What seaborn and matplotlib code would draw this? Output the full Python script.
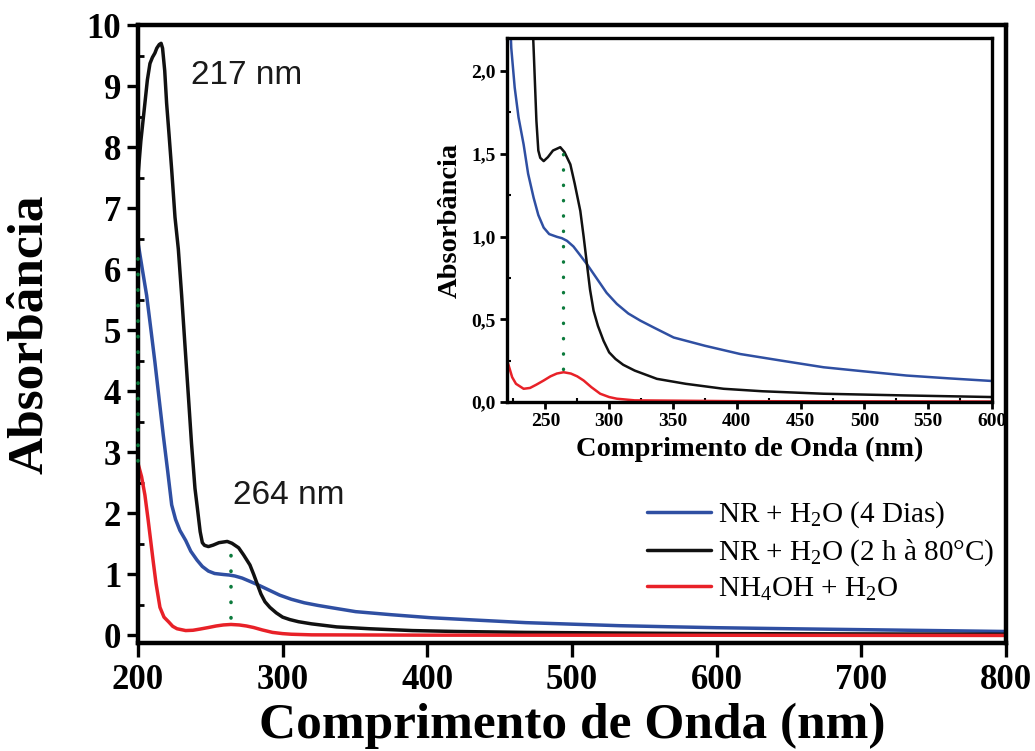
import matplotlib
matplotlib.use("Agg")
import matplotlib.pyplot as plt
import numpy as np
import pandas as pd
import seaborn as sns
from matplotlib.ticker import FixedLocator, MultipleLocator

# ---------------------------------------------------------------
# UV-Vis spectra: wavelength (nm) and absorbance for each sample
# ---------------------------------------------------------------
nr_4dias_nm = [200, 203, 206, 209, 211.7, 214.5, 217.5, 220.5, 223.3, 226, 229,
               233, 236.5, 240.8, 244.5, 248.7, 253, 259.2, 263, 267, 272, 277,
               282.6, 290, 298, 306, 315, 324.4, 335, 350.5, 375, 402.7, 435,
               468, 500, 533, 566, 600, 650, 700, 750, 800]
nr_4dias_abs = [6.44, 6.0, 5.57, 5.0, 4.48, 3.9, 3.28, 2.7, 2.14, 1.9, 1.72,
                1.556, 1.38, 1.235, 1.13, 1.054, 1.015, 0.998, 0.99, 0.974, 0.94,
                0.89, 0.833, 0.75, 0.66, 0.593, 0.535, 0.492, 0.45, 0.39, 0.34,
                0.29, 0.25, 0.21, 0.185, 0.16, 0.143, 0.127, 0.11, 0.095, 0.08,
                0.065]

nr_80c_nm = [200, 202, 204.8, 206.5, 208.3, 210, 211.7, 213, 214.7, 216, 217,
             218.5, 219.8, 221.5, 223.3, 225.6, 227.9, 230.2, 232.5, 234.8, 237,
             239.4, 241, 243, 244.5, 246, 248.7, 252, 256, 261.7, 265, 269.6,
             273, 277.4, 280, 282.6, 285, 287.8, 291.2, 295.6, 300, 305, 311,
             320, 337.4, 360, 389.6, 420, 468, 530, 600, 700, 800]
nr_80c_abs = [7.52, 8.1, 8.72, 9.1, 9.37, 9.47, 9.54, 9.62, 9.68, 9.7, 9.62,
              9.25, 8.72, 8.2, 7.63, 6.85, 6.33, 5.57, 4.75, 3.94, 3.15, 2.41,
              2.1, 1.7, 1.52, 1.476, 1.456, 1.48, 1.52, 1.54, 1.51, 1.436, 1.32,
              1.155, 1.0, 0.833, 0.68, 0.552, 0.46, 0.37, 0.3, 0.26, 0.225,
              0.19, 0.14, 0.11, 0.08, 0.065, 0.05, 0.04, 0.03, 0.025, 0.02]

nh4oh_nm = [200, 202.5, 204.8, 207, 208.8, 210.5, 212.5, 215.2, 218, 221.3, 224,
            227, 233, 238, 243, 248.7, 254, 259, 264.3, 270, 275, 280, 286, 293,
            300, 306, 320, 400, 600, 800]
nh4oh_abs = [2.82, 2.6, 2.3, 1.9, 1.55, 1.22, 0.85, 0.46, 0.3, 0.22, 0.15, 0.11,
             0.08, 0.085, 0.105, 0.13, 0.155, 0.172, 0.18, 0.172, 0.155, 0.13,
             0.09, 0.05, 0.03, 0.02, 0.01, 0.005, 0.003, 0.0]

series_labels = ["NR + H$_2$O (4 Dias)",
                 "NR + H$_2$O (2 h à 80°C)",
                 "NH$_4$OH + H$_2$O"]
series_colors = ["#2f4fa2", "#111111", "#e82128"]

# band markers
pico_main_nm = 217
pico_nm = 264
pico_main_span = (0.28, 1.42)
pico_inset_span = (0.2, 1.5)
borda_nm = 200
borda_span = (2.85, 6.42)

main_xticks = [200, 300, 400, 500, 600, 700, 800]
main_yticks = [0, 1, 2, 3, 4, 5, 6, 7, 8, 9, 10]
inset_xticks = [250, 300, 350, 400, 450, 500, 550, 600]
inset_yticks = [0.0, 0.5, 1.0, 1.5, 2.0]
inset_yticklabels = ["0,0", "0,5", "1,0", "1,5", "2,0"]

# ---------------------------------------------------------------
sns.set_theme(style="ticks")
plt.rcParams["font.family"] = ["Liberation Serif", "DejaVu Serif"]
plt.rcParams["mathtext.fontset"] = "custom"
plt.rcParams["mathtext.rm"] = "Liberation Serif"
plt.rcParams["mathtext.it"] = "Liberation Serif:italic"
plt.rcParams["mathtext.bf"] = "Liberation Serif:bold"
for key in ["text.color", "axes.labelcolor", "xtick.color", "ytick.color",
            "axes.edgecolor"]:
    plt.rcParams[key] = "black"

frames = []
for nm, ab, lab in [(nr_4dias_nm, nr_4dias_abs, series_labels[0]),
                    (nr_80c_nm, nr_80c_abs, series_labels[1]),
                    (nh4oh_nm, nh4oh_abs, series_labels[2])]:
    frames.append(pd.DataFrame({"nm": nm, "abs": ab, "amostra": lab}))
df = pd.concat(frames, ignore_index=True)
palette = dict(zip(series_labels, series_colors))

fig = plt.figure(figsize=(10.35, 7.51), dpi=100)
ax = fig.add_axes([0.1333, 0.1441, 0.8386, 0.8226])

sns.lineplot(data=df, x="nm", y="abs", hue="amostra", hue_order=series_labels,
             palette=palette, sort=False, estimator=None, linewidth=2.5,
             ax=ax, legend=False)

ax.vlines(borda_nm, *borda_span, colors="#0c7a3c", linestyles=(0, (0.1, 4.2)),
          linewidth=2.6, capstyle="round", clip_on=False, zorder=5)
ax.vlines(pico_nm, *pico_main_span, colors="#0c7a3c", linestyles=(0, (0.1, 4.2)),
          linewidth=2.6, capstyle="round", zorder=5)

ax.set_xlim(200, 800)
ax.set_ylim(-0.12, 10)
ax.xaxis.set_major_locator(FixedLocator(main_xticks))
ax.yaxis.set_major_locator(FixedLocator(main_yticks))
ax.yaxis.set_minor_locator(MultipleLocator(0.5))
ax.tick_params(axis="x", which="major", direction="out", length=10, width=2.4,
               labelsize=25, pad=5)
ax.tick_params(axis="y", which="major", direction="out", length=8, width=2.4,
               labelsize=25, pad=4)
ax.tick_params(axis="y", which="minor", direction="in", length=4, width=2)
for lbl in ax.get_xticklabels() + ax.get_yticklabels():
    lbl.set_fontweight("bold")
for sp in ax.spines.values():
    sp.set_linewidth(3.2)
    sp.set_visible(True)

ax.set_xlabel("Comprimento de Onda (nm)", fontsize=37, fontweight="bold",
              labelpad=4)
ax.set_ylabel("Absorbância", fontsize=37, fontweight="bold", labelpad=24)

ax.text(275, 9.18, f"{pico_main_nm} nm", fontsize=24, family="Liberation Sans",
        ha="center", va="center", color="#1a1a1a")
ax.text(304, 2.3, f"{pico_nm} nm", fontsize=24, family="Liberation Sans",
        ha="center", va="center", color="#1a1a1a")

handles = [plt.Line2D([], [], color=c, linewidth=2.5) for c in series_colors]
ax.legend(handles, series_labels, loc="lower right",
          bbox_to_anchor=(1.0, 0.046), frameon=False, fontsize=21,
          handlelength=2.2, handletextpad=0.25, labelspacing=0.25,
          borderaxespad=0.0)

# inset zoom on 220-600 nm
axin = fig.add_axes([0.4899, 0.4647, 0.4686, 0.4847])
sns.lineplot(data=df, x="nm", y="abs", hue="amostra", hue_order=series_labels,
             palette=palette, sort=False, estimator=None, linewidth=1.8,
             ax=axin, legend=False)
axin.vlines(pico_nm, *pico_inset_span, colors="#0c7a3c",
            linestyles=(0, (0.1, 4.5)), linewidth=2.4, capstyle="round",
            zorder=5)
axin.set_xlim(220, 600)
axin.set_ylim(0, 2.2)
axin.xaxis.set_major_locator(FixedLocator(inset_xticks))
axin.xaxis.set_minor_locator(MultipleLocator(25))
axin.yaxis.set_major_locator(FixedLocator(inset_yticks))
axin.yaxis.set_minor_locator(MultipleLocator(0.25))
axin.set_yticklabels(inset_yticklabels)
axin.tick_params(which="major", direction="out", length=5, width=2,
                 labelsize=14, pad=3)
axin.tick_params(which="minor", direction="in", length=3, width=1.5)
for lbl in axin.get_xticklabels() + axin.get_yticklabels():
    lbl.set_fontweight("bold")
for sp in axin.spines.values():
    sp.set_linewidth(2.4)
    sp.set_visible(True)
axin.set_xlabel("Comprimento de Onda (nm)", fontsize=20.5, fontweight="bold",
                labelpad=5)
axin.set_ylabel("Absorbância", fontsize=20.5, fontweight="bold", labelpad=6)

fig.savefig("out.png", dpi=100)
